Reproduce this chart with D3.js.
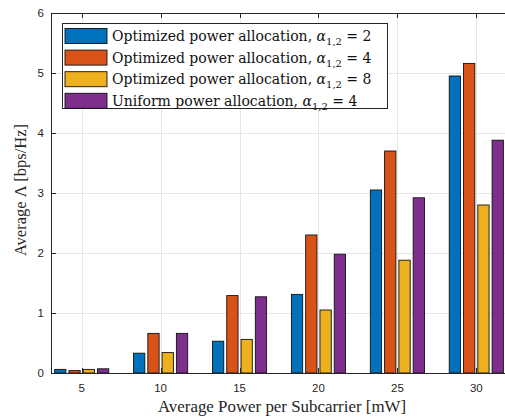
<!DOCTYPE html>
<html>
<head>
<meta charset="utf-8">
<script src="https://cdn.jsdelivr.net/npm/d3@7"></script>
<style>
  html, body { margin: 0; padding: 0; background: #fff; }
  svg { display: block; }
</style>
</head>
<body>
<svg width="505" height="417"></svg>
<script>
'use strict';

// data
const powers = [5, 10, 15, 20, 25, 30];
const opt2 = [0.06, 0.33, 0.53, 1.31, 3.05, 4.95];
const opt4 = [0.04, 0.66, 1.29, 2.30, 3.70, 5.16];
const opt8 = [0.06, 0.34, 0.56, 1.05, 1.88, 2.80];
const uni4 = [0.07, 0.66, 1.27, 1.98, 2.92, 3.88];
const yTicks = [0, 1, 2, 3, 4, 5, 6];
const seriesNames = ["Optimized power allocation, ", "Optimized power allocation, ", "Optimized power allocation, ", "Uniform power allocation, "];
const seriesAlpha = ["2", "4", "8", "4"];
const colors = ["#0072BD", "#D95319", "#EDB120", "#7E2F8E"];

const series = [opt2, opt4, opt8, uni4];

const svg = d3.select("svg");

const pLeft = 51, pRight = 507, pTop = 13, pBottom = 373;
const axisCol = "#262626";

const x = d3.scaleLinear().domain([3.056, 31.944]).range([pLeft, pRight]);
const y = d3.scaleLinear().domain([0, 6]).range([pBottom, pTop]);
const xSub = d3.scaleBand().domain([0, 1, 2, 3]).range([-1.81, 1.81]).paddingInner(0.21).paddingOuter(0.105);

// grid
const grid = svg.append("g");
grid.selectAll(".gx").data(powers).enter().append("line")
  .attr("x1", d => Math.round(x(d)) + 0.5).attr("x2", d => Math.round(x(d)) + 0.5)
  .attr("y1", pTop).attr("y2", pBottom)
  .attr("stroke", "#e6e6e6").attr("stroke-width", 1);
grid.selectAll(".gy").data(yTicks.slice(1, -1)).enter().append("line")
  .attr("x1", pLeft).attr("x2", pRight)
  .attr("y1", d => Math.round(y(d)) + 0.5).attr("y2", d => Math.round(y(d)) + 0.5)
  .attr("stroke", "#e6e6e6").attr("stroke-width", 1);

// bars
series.forEach((vals, si) => {
  svg.append("g").selectAll("rect").data(vals).enter().append("rect")
    .attr("x", (d, i) => x(powers[i] + xSub(si)))
    .attr("width", (d, i) => x(powers[i] + xSub(si) + xSub.bandwidth()) - x(powers[i] + xSub(si)))
    .attr("y", d => y(d))
    .attr("height", d => y(0) - y(d))
    .attr("fill", colors[si])
    .attr("stroke", "#111")
    .attr("stroke-width", 0.9);
});

// axes box
const box = svg.append("g").attr("stroke", axisCol).attr("stroke-width", 1).attr("fill", "none");
box.append("path").attr("d", `M${pLeft + 0.5},${pBottom + 0.5}V${pTop + 0.5}H${pRight}`);
box.append("line").attr("x1", pLeft).attr("x2", pRight).attr("y1", pBottom + 0.5).attr("y2", pBottom + 0.5);

// ticks (inward)
box.selectAll(".tl").data(yTicks).enter().append("line")
  .attr("x1", pLeft).attr("x2", pLeft + 5)
  .attr("y1", d => Math.round(y(d)) + 0.5).attr("y2", d => Math.round(y(d)) + 0.5);
box.selectAll(".tb").data(powers).enter().append("line")
  .attr("x1", d => Math.round(x(d)) + 0.5).attr("x2", d => Math.round(x(d)) + 0.5)
  .attr("y1", pBottom).attr("y2", pBottom - 5);
box.selectAll(".tt").data(powers).enter().append("line")
  .attr("x1", d => Math.round(x(d)) + 0.5).attr("x2", d => Math.round(x(d)) + 0.5)
  .attr("y1", pTop).attr("y2", pTop + 5);

// tick labels
const tickFont = "'Liberation Sans', Arial, sans-serif";
svg.append("g").selectAll("text").data(yTicks).enter().append("text")
  .attr("x", pLeft - 7).attr("y", d => y(d) + 4)
  .attr("text-anchor", "end")
  .style("font-family", tickFont).style("font-size", "11.5px").style("fill", axisCol)
  .text(d => d);
svg.append("g").selectAll("text").data(powers).enter().append("text")
  .attr("x", d => x(d)).attr("y", pBottom + 19)
  .attr("text-anchor", "middle")
  .style("font-family", tickFont).style("font-size", "11.5px").style("fill", axisCol)
  .text(d => d);

// axis labels
const serif = "'Liberation Serif', serif";
const wideSerif = "'DejaVu Serif', serif";
svg.append("text")
  .attr("x", 282).attr("y", 412)
  .attr("text-anchor", "middle")
  .style("font-family", serif).style("font-size", "16.9px").style("fill", axisCol)
  .text("Average Power per Subcarrier [mW]");
svg.append("text")
  .attr("transform", `translate(26, 190) rotate(-90)`)
  .attr("text-anchor", "middle")
  .style("font-family", serif).style("font-size", "16.5px").style("fill", axisCol)
  .text("Average Λ [bps/Hz]");

// legend
const lg = svg.append("g").attr("transform", "translate(62, 23)");
lg.append("rect")
  .attr("x", 0.5).attr("y", 0.5).attr("width", 325).attr("height", 85)
  .attr("fill", "#fff").attr("stroke", axisCol).attr("stroke-width", 1);

seriesNames.forEach((nm, i) => {
  const row = lg.append("g").attr("transform", `translate(0, ${5 + i * 21.6})`);
  row.append("rect")
    .attr("x", 3).attr("y", 0.5).attr("width", 42).attr("height", 15)
    .attr("fill", colors[i]).attr("stroke", "#111").attr("stroke-width", 0.9);
  const t = row.append("text")
    .attr("x", 50).attr("y", 13)
    .style("font-family", wideSerif).style("font-size", "14px").style("fill", "#111");
  t.append("tspan").text(nm);
  t.append("tspan").style("font-style", "italic").text("α");
  t.append("tspan").attr("dy", 4).style("font-size", "10px").text("1,2");
  t.append("tspan").attr("dy", -4).text(" = " + seriesAlpha[i]);
});
</script>
</body>
</html>
